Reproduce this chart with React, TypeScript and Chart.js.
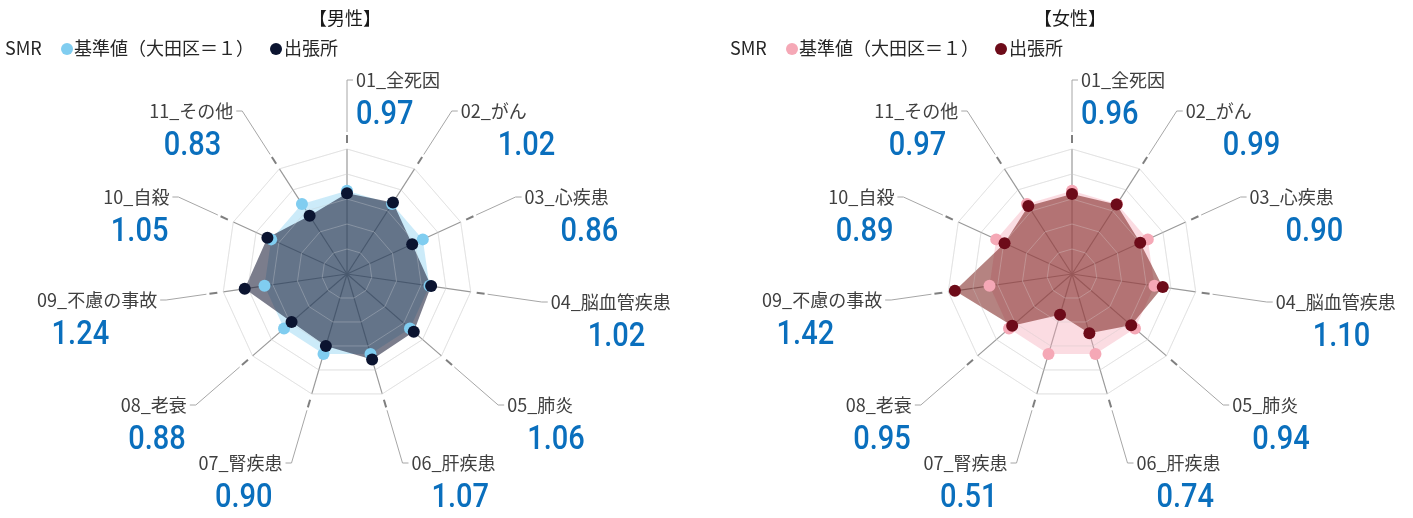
import React, { useEffect, useRef } from "react";
import { Chart, registerables } from "chart.js";

Chart.register(...registerables);

// ---- data ----
const categories = [
  "01_全死因",
  "02_がん",
  "03_心疾患",
  "04_脳血管疾患",
  "05_肺炎",
  "06_肝疾患",
  "07_腎疾患",
  "08_老衰",
  "09_不慮の事故",
  "10_自殺",
  "11_その他",
];
const baselineValues = [1, 1, 1, 1, 1, 1, 1, 1, 1, 1, 1];
const maleValues = [0.97, 1.02, 0.86, 1.02, 1.06, 1.07, 0.9, 0.88, 1.24, 1.05, 0.83];
const femaleValues = [0.96, 0.99, 0.9, 1.1, 0.94, 0.74, 0.51, 0.95, 1.42, 0.89, 0.97];
const seriesNames = ["基準値（大田区＝１）", "出張所"];
const panelTitles = ["【男性】", "【女性】"];
const legendPrefix = "SMR";
const scaleMin = 0;
const scaleMax = 1.5;
const scaleStep = 0.3;

// ---- layout (label placement relative to chart centre) ----
const labelDy = [-194, -163, -77, 28, 131, 189, 189, 131, 26, -77, -163];
const valueDx = [0, 37, 36, 37, 20, 20, -10, -1, -48, -1, -12];
const valueDy = 36;

const FONT = '"Noto Sans CJK JP", "Noto Sans", sans-serif';

type Palette = {
  basePoint: string;
  baseFill: string;
  mainPoint: string;
  mainFill: string;
};

const malePalette: Palette = {
  basePoint: "#80cdf0",
  baseFill: "rgba(128,205,240,0.4)",
  mainPoint: "#0b1430",
  mainFill: "rgba(15,18,45,0.55)",
};
const femalePalette: Palette = {
  basePoint: "#f5a8b6",
  baseFill: "rgba(245,168,182,0.4)",
  mainPoint: "#6d0b19",
  mainFill: "rgba(120,30,25,0.55)",
};

function RadarPanel(props: {
  values: number[];
  palette: Palette;
  title: string;
  left: number;
  padLeft: number;
  padRight: number;
}) {
  const ref = useRef<HTMLCanvasElement | null>(null);
  useEffect(() => {
    if (!ref.current) return;
    const { values, palette, title } = props;

    const overlayGrid = {
      id: "overlayGrid",
      beforeDatasetsDraw(chart: any) {
        const s = chart.scales.r;
        const ctx = chart.ctx;
        ctx.save();
        ctx.strokeStyle = "rgba(255,255,255,0.28)";
        ctx.lineWidth = 1;
        for (let v = scaleStep; v <= scaleMax + 1e-9; v += scaleStep) {
          const d = s.getDistanceFromCenterForValue(v);
          ctx.beginPath();
          for (let i = 0; i < categories.length; i++) {
            const p = s.getPointPosition(i, d);
            if (i === 0) ctx.moveTo(p.x, p.y);
            else ctx.lineTo(p.x, p.y);
          }
          ctx.closePath();
          ctx.stroke();
        }
        ctx.restore();
      },
    };

    const decorations = {
      id: "decorations",
      afterDraw(chart: any) {
        const s = chart.scales.r;
        const ctx = chart.ctx;
        const cx = s.xCenter;
        const cy = s.yCenter;
        const R = s.drawingArea;
        const n = categories.length;
        ctx.save();
        // title
        ctx.fillStyle = "#1a1a1a";
        ctx.font = `18px ${FONT}`;
        ctx.textAlign = "center";
        ctx.textBaseline = "middle";
        ctx.fillText(title, cx - 2, 18);
        // legend
        ctx.font = `18px ${FONT}`;
        ctx.textAlign = "left";
        ctx.fillStyle = "#262626";
        ctx.fillText(legendPrefix, cx - 342, 48);
        ctx.fillStyle = palette.basePoint;
        ctx.beginPath();
        ctx.arc(cx - 280, 49, 6, 0, Math.PI * 2);
        ctx.fill();
        ctx.fillStyle = "#262626";
        ctx.fillText(seriesNames[0], cx - 273, 48);
        ctx.fillStyle = palette.mainPoint;
        ctx.beginPath();
        ctx.arc(cx - 71, 49, 6, 0, Math.PI * 2);
        ctx.fill();
        ctx.fillStyle = "#262626";
        ctx.fillText(seriesNames[1], cx - 63, 48);

        // leaders + labels
        for (let i = 0; i < n; i++) {
          const ang = -Math.PI / 2 + (i * 2 * Math.PI) / n;
          const ux = Math.cos(ang);
          const uy = Math.sin(ang);
          const dy = labelDy[i];
          const r = dy / uy;
          const ex = cx + r * ux;
          const ey = cy + dy;
          const right = i <= 5;
          // dash beyond outer ring
          ctx.strokeStyle = "#7f7f7f";
          ctx.lineWidth = 2;
          ctx.beginPath();
          ctx.moveTo(cx + (R + 6) * ux, cy + (R + 6) * uy);
          ctx.lineTo(cx + (R + 14) * ux, cy + (R + 14) * uy);
          ctx.stroke();
          // leader
          ctx.strokeStyle = "#a6a6a6";
          ctx.lineWidth = 1;
          ctx.beginPath();
          ctx.moveTo(cx + (R + 17) * ux, cy + (R + 17) * uy);
          ctx.lineTo(ex, ey);
          ctx.lineTo(ex + (right ? 6 : -6), ey);
          ctx.stroke();
          // label
          const tx = ex + (right ? 9 : -9);
          ctx.font = `18px ${FONT}`;
          ctx.fillStyle = "#404040";
          ctx.textAlign = right ? "left" : "right";
          ctx.textBaseline = "middle";
          ctx.fillText(categories[i], tx, ey);
          // value (condensed look)
          ctx.save();
          ctx.translate(tx + valueDx[i], ey + valueDy);
          ctx.scale(0.88, 1);
          ctx.font = `500 33px Roboto, ${FONT}`;
          ctx.fillStyle = "#0a6fbd";
          ctx.fillText(values[i].toFixed(2), 0, 0);
          ctx.restore();
        }
        ctx.restore();
      },
    };

    const chart = new Chart(ref.current, {
      type: "radar",
      data: {
        labels: categories,
        datasets: [
          {
            label: seriesNames[0],
            data: baselineValues,
            order: 1,
            fill: true,
            backgroundColor: palette.baseFill,
            borderWidth: 0,
            borderColor: "rgba(0,0,0,0)",
            pointRadius: 6,
            pointBackgroundColor: palette.basePoint,
            pointBorderWidth: 0,
          },
          {
            label: seriesNames[1],
            data: values,
            order: 0,
            fill: true,
            backgroundColor: palette.mainFill,
            borderWidth: 0,
            borderColor: "rgba(0,0,0,0)",
            pointRadius: 6,
            pointBackgroundColor: palette.mainPoint,
            pointBorderWidth: 0,
          },
        ],
      },
      options: {
        responsive: false,
        animation: false,
        devicePixelRatio: 1,
        layout: {
          padding: { left: props.padLeft, right: props.padRight, top: 149, bottom: 119 },
        },
        plugins: {
          legend: { display: false },
          title: { display: false },
          tooltip: { enabled: false },
          filler: { drawTime: "beforeDatasetsDraw" },
        },
        scales: {
          r: {
            min: scaleMin,
            max: scaleMax,
            ticks: { display: false, stepSize: scaleStep },
            pointLabels: { display: false },
            grid: { color: "#d9d9d9", lineWidth: 1 },
            angleLines: { color: "#999999", lineWidth: 1.2 },
          },
        },
      } as any,
      plugins: [overlayGrid, decorations],
    });
    return () => chart.destroy();
  }, []);

  return (
    <canvas
      ref={ref}
      width={706}
      height={518}
      style={{ position: "absolute", left: props.left, top: 0, width: 706, height: 518 }}
    />
  );
}

export default function App() {
  return (
    <div
      style={{
        position: "fixed",
        left: 0,
        top: 0,
        width: 1413,
        height: 518,
        overflow: "hidden",
        background: "#ffffff",
      }}
    >
      <RadarPanel values={maleValues} palette={malePalette} title={panelTitles[0]} left={0} padLeft={222} padRight={234} />
      <RadarPanel values={femaleValues} palette={femalePalette} title={panelTitles[1]} left={707} padLeft={240} padRight={216} />
    </div>
  );
}
